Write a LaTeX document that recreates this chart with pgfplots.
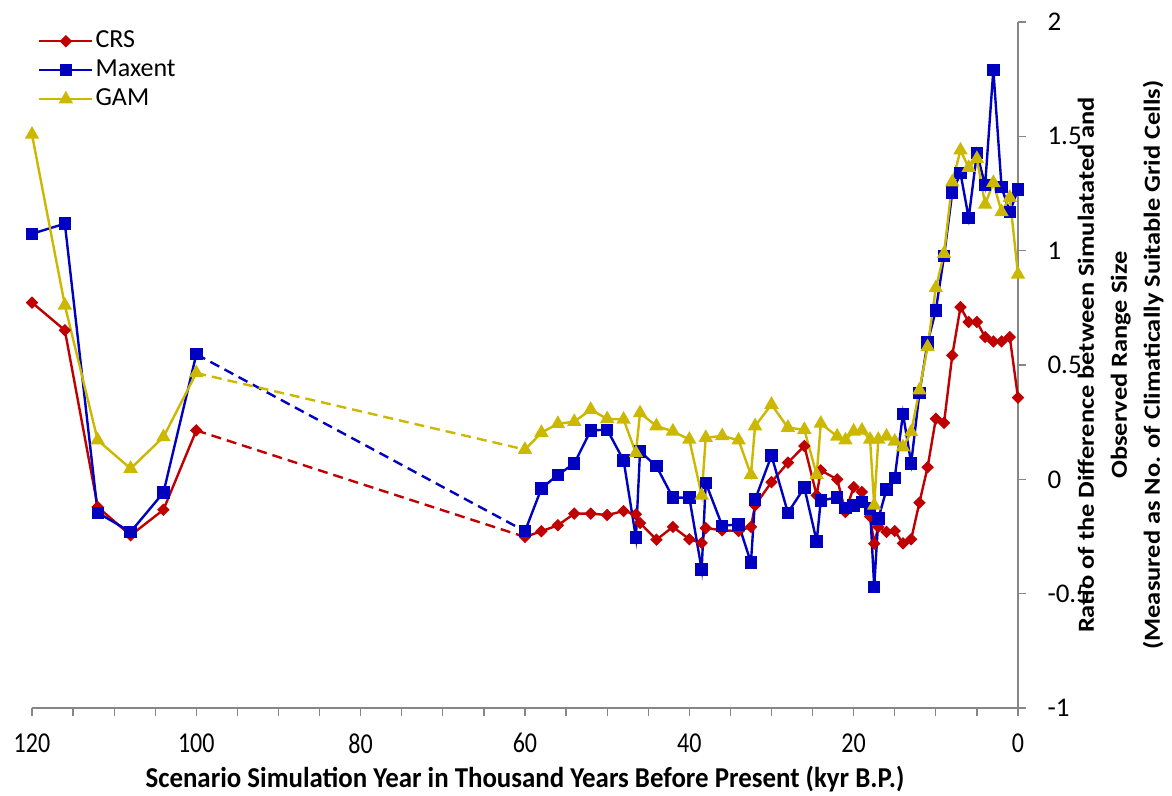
\documentclass[border=0pt]{standalone}
\usepackage{fontspec}
\setmainfont{Carlito}
\usepackage{graphicx}
\usepackage{pgfplots}
\pgfplotsset{compat=1.18}
\definecolor{crs}{RGB}{192,0,0}
\definecolor{mx}{RGB}{0,0,192}
\definecolor{gam}{RGB}{204,184,0}
\definecolor{axgray}{RGB}{134,134,134}
\begin{document}
\begin{tikzpicture}
\path[use as bounding box] (-32bp,-88bp) rectangle (1140bp,708bp);
\begin{axis}[
  at={(0,0)}, anchor=south west,
  scale only axis, width=986bp, height=686bp,
  xmin=0, xmax=120, ymin=-1, ymax=2, x dir=reverse,
  clip=false,
  axis x line*=bottom, axis y line*=right,
  axis line style={draw=axgray, line width=1.5bp, -},
  xtick={0,20,40,60,80,100,120}, minor xtick={5,10,15,25,30,35,45,50,55,65,70,75,85,90,95,105,110,115},
  ytick={-1,-0.5,0,0.5,1,1.5,2},
  tick style={draw=axgray, line width=1.2bp},
  tick align=outside, major tick length=8bp, minor tick length=8bp,
  /pgf/number format/assume math mode=true,
  xticklabel={\scalebox{1}[1.2]{\pgfmathprintnumber{\tick}}},
  xticklabel style={font=\fontsize{24bp}{28bp}\selectfont, anchor=north, yshift=-14bp},
  yticklabel style={font=\fontsize{27bp}{30bp}\selectfont, anchor=west, xshift=18bp},
  xlabel={\scalebox{1.12}[1.2]{Scenario Simulation Year in Thousand Years Before Present (kyr B.P.)}},
  every axis x label/.style={at={(rel axis cs:0.5,0)}, yshift=-71bp, anchor=center,
     font=\bfseries\fontsize{24bp}{28bp}\selectfont},
  ylabel={\scalebox{1.15}[1]{\begin{tabular}{@{}c@{}}Ratio of the Difference between Simulatated and\\[3bp]Observed Range Size\\[3bp](Measured as No. of Climatically Suitable Grid Cells)\end{tabular}}},
  every axis y label/.style={at={(rel axis cs:1,0.5)}, xshift=103bp, rotate=90, anchor=center,
     inner sep=0pt, font=\bfseries\fontsize{23bp}{30bp}\selectfont},
  legend style={at={(rel axis cs:0,1)}, anchor=north west, xshift=6bp, yshift=-6bp, draw=none, fill=none, inner sep=0pt,
    font=\fontsize{26bp}{28bp}\selectfont, row sep=3bp,
    nodes={inner sep=2bp, text height=17bp, text depth=5bp}},
  legend cell align=left,
  legend image code/.code={\draw[mark repeat=2,mark phase=2,#1] plot coordinates {(0bp,0bp) (26.5bp,0bp) (53bp,0bp)};},
  every axis plot/.append style={line width=2.4bp},
]
% --- first segment (120-100) with legend
\addplot[crs, mark=square*, mark size=3.2bp, mark options={rotate=45, solid}] coordinates {
(120,0.773)(116,0.652)(112,-0.121)(108,-0.245)(104,-0.133)(100,0.214)};
\addlegendentry{CRS}
\addplot[mx, mark=square*, mark size=5bp, mark options={solid}] coordinates {
(120,1.074)(116,1.118)(112,-0.146)(108,-0.230)(104,-0.058)(100,0.547)};
\addlegendentry{Maxent}
\addplot[gam, mark=triangle*, mark size=6bp, mark options={solid}] coordinates {
(120,1.508)(116,0.761)(112,0.171)(108,0.047)(104,0.185)(100,0.465)};
\addlegendentry{GAM}
% --- dashed gap segments
\addplot[crs, dash pattern=on 10bp off 6bp, forget plot] coordinates {(100,0.214)(60,-0.252)};
\addplot[mx, dash pattern=on 10bp off 6bp, forget plot] coordinates {(100,0.547)(60,-0.227)};
\addplot[gam, dash pattern=on 10bp off 6bp, forget plot] coordinates {(100,0.465)(60,0.130)};
% --- last segment (60-0)
\addplot[crs, mark=square*, mark size=3.2bp, mark options={rotate=45, solid}, forget plot] coordinates {
(60,-0.252)(58,-0.227)(56,-0.201)(54,-0.150)(52,-0.150)(50,-0.156)(48,-0.139)(46.5,-0.153)(46,-0.191)(44,-0.264)
(42,-0.208)(40,-0.262)(38.5,-0.278)(38,-0.213)(36,-0.223)(34,-0.226)(32.5,-0.208)(32,-0.114)(30,-0.012)(28,0.073)
(26,0.146)(24.5,-0.070)(24,0.039)(22,0.000)(21,-0.143)(20,-0.034)(19,-0.055)(18,-0.162)(17.5,-0.281)(17,-0.208)
(16,-0.230)(15,-0.226)(14,-0.280)(13,-0.262)(12,-0.102)(11,0.053)(10,0.265)(9,0.247)(8,0.542)(7,0.753)
(6,0.688)(5,0.688)(4,0.622)(3,0.603)(2,0.603)(1,0.622)(0,0.357)};
\addplot[mx, mark=square*, mark size=5bp, mark options={solid}, forget plot] coordinates {
(60,-0.227)(58,-0.040)(56,0.020)(54,0.069)(52,0.214)(50,0.217)(48,0.083)(46.5,-0.255)(46,0.122)(44,0.057)
(42,-0.080)(40,-0.080)(38.5,-0.394)(38,-0.015)(36,-0.203)(34,-0.197)(32.5,-0.364)(32,-0.089)(30,0.104)(28,-0.146)
(26,-0.036)(24.5,-0.271)(24,-0.092)(22,-0.080)(21,-0.125)(20,-0.114)(19,-0.099)(18,-0.128)(17.5,-0.471)(17,-0.172)
(16,-0.044)(15,0.007)(14,0.287)(13,0.070)(12,0.377)(11,0.599)(10,0.739)(9,0.976)(8,1.254)(7,1.339)
(6,1.143)(5,1.427)(4,1.286)(3,1.791)(2,1.278)(1,1.169)(0,1.268)};
\addplot[gam, mark=triangle*, mark size=6bp, mark options={solid}, forget plot] coordinates {
(60,0.130)(58,0.204)(56,0.243)(54,0.252)(52,0.305)(50,0.264)(48,0.262)(46.5,0.115)(46,0.290)(44,0.233)
(42,0.210)(40,0.174)(38.5,-0.070)(38,0.182)(36,0.190)(34,0.171)(32.5,0.020)(32,0.233)(30,0.327)(28,0.226)
(26,0.217)(24.5,0.020)(24,0.244)(22,0.188)(21,0.171)(20,0.210)(19,0.214)(18,0.174)(17.5,-0.114)(17,0.174)
(16,0.188)(15,0.166)(14,0.141)(13,0.207)(12,0.390)(11,0.579)(10,0.837)(9,0.987)(8,1.300)(7,1.439)
(6,1.363)(5,1.402)(4,1.202)(3,1.297)(2,1.169)(1,1.232)(0,0.896)};
\end{axis}
\end{tikzpicture}
\end{document}
